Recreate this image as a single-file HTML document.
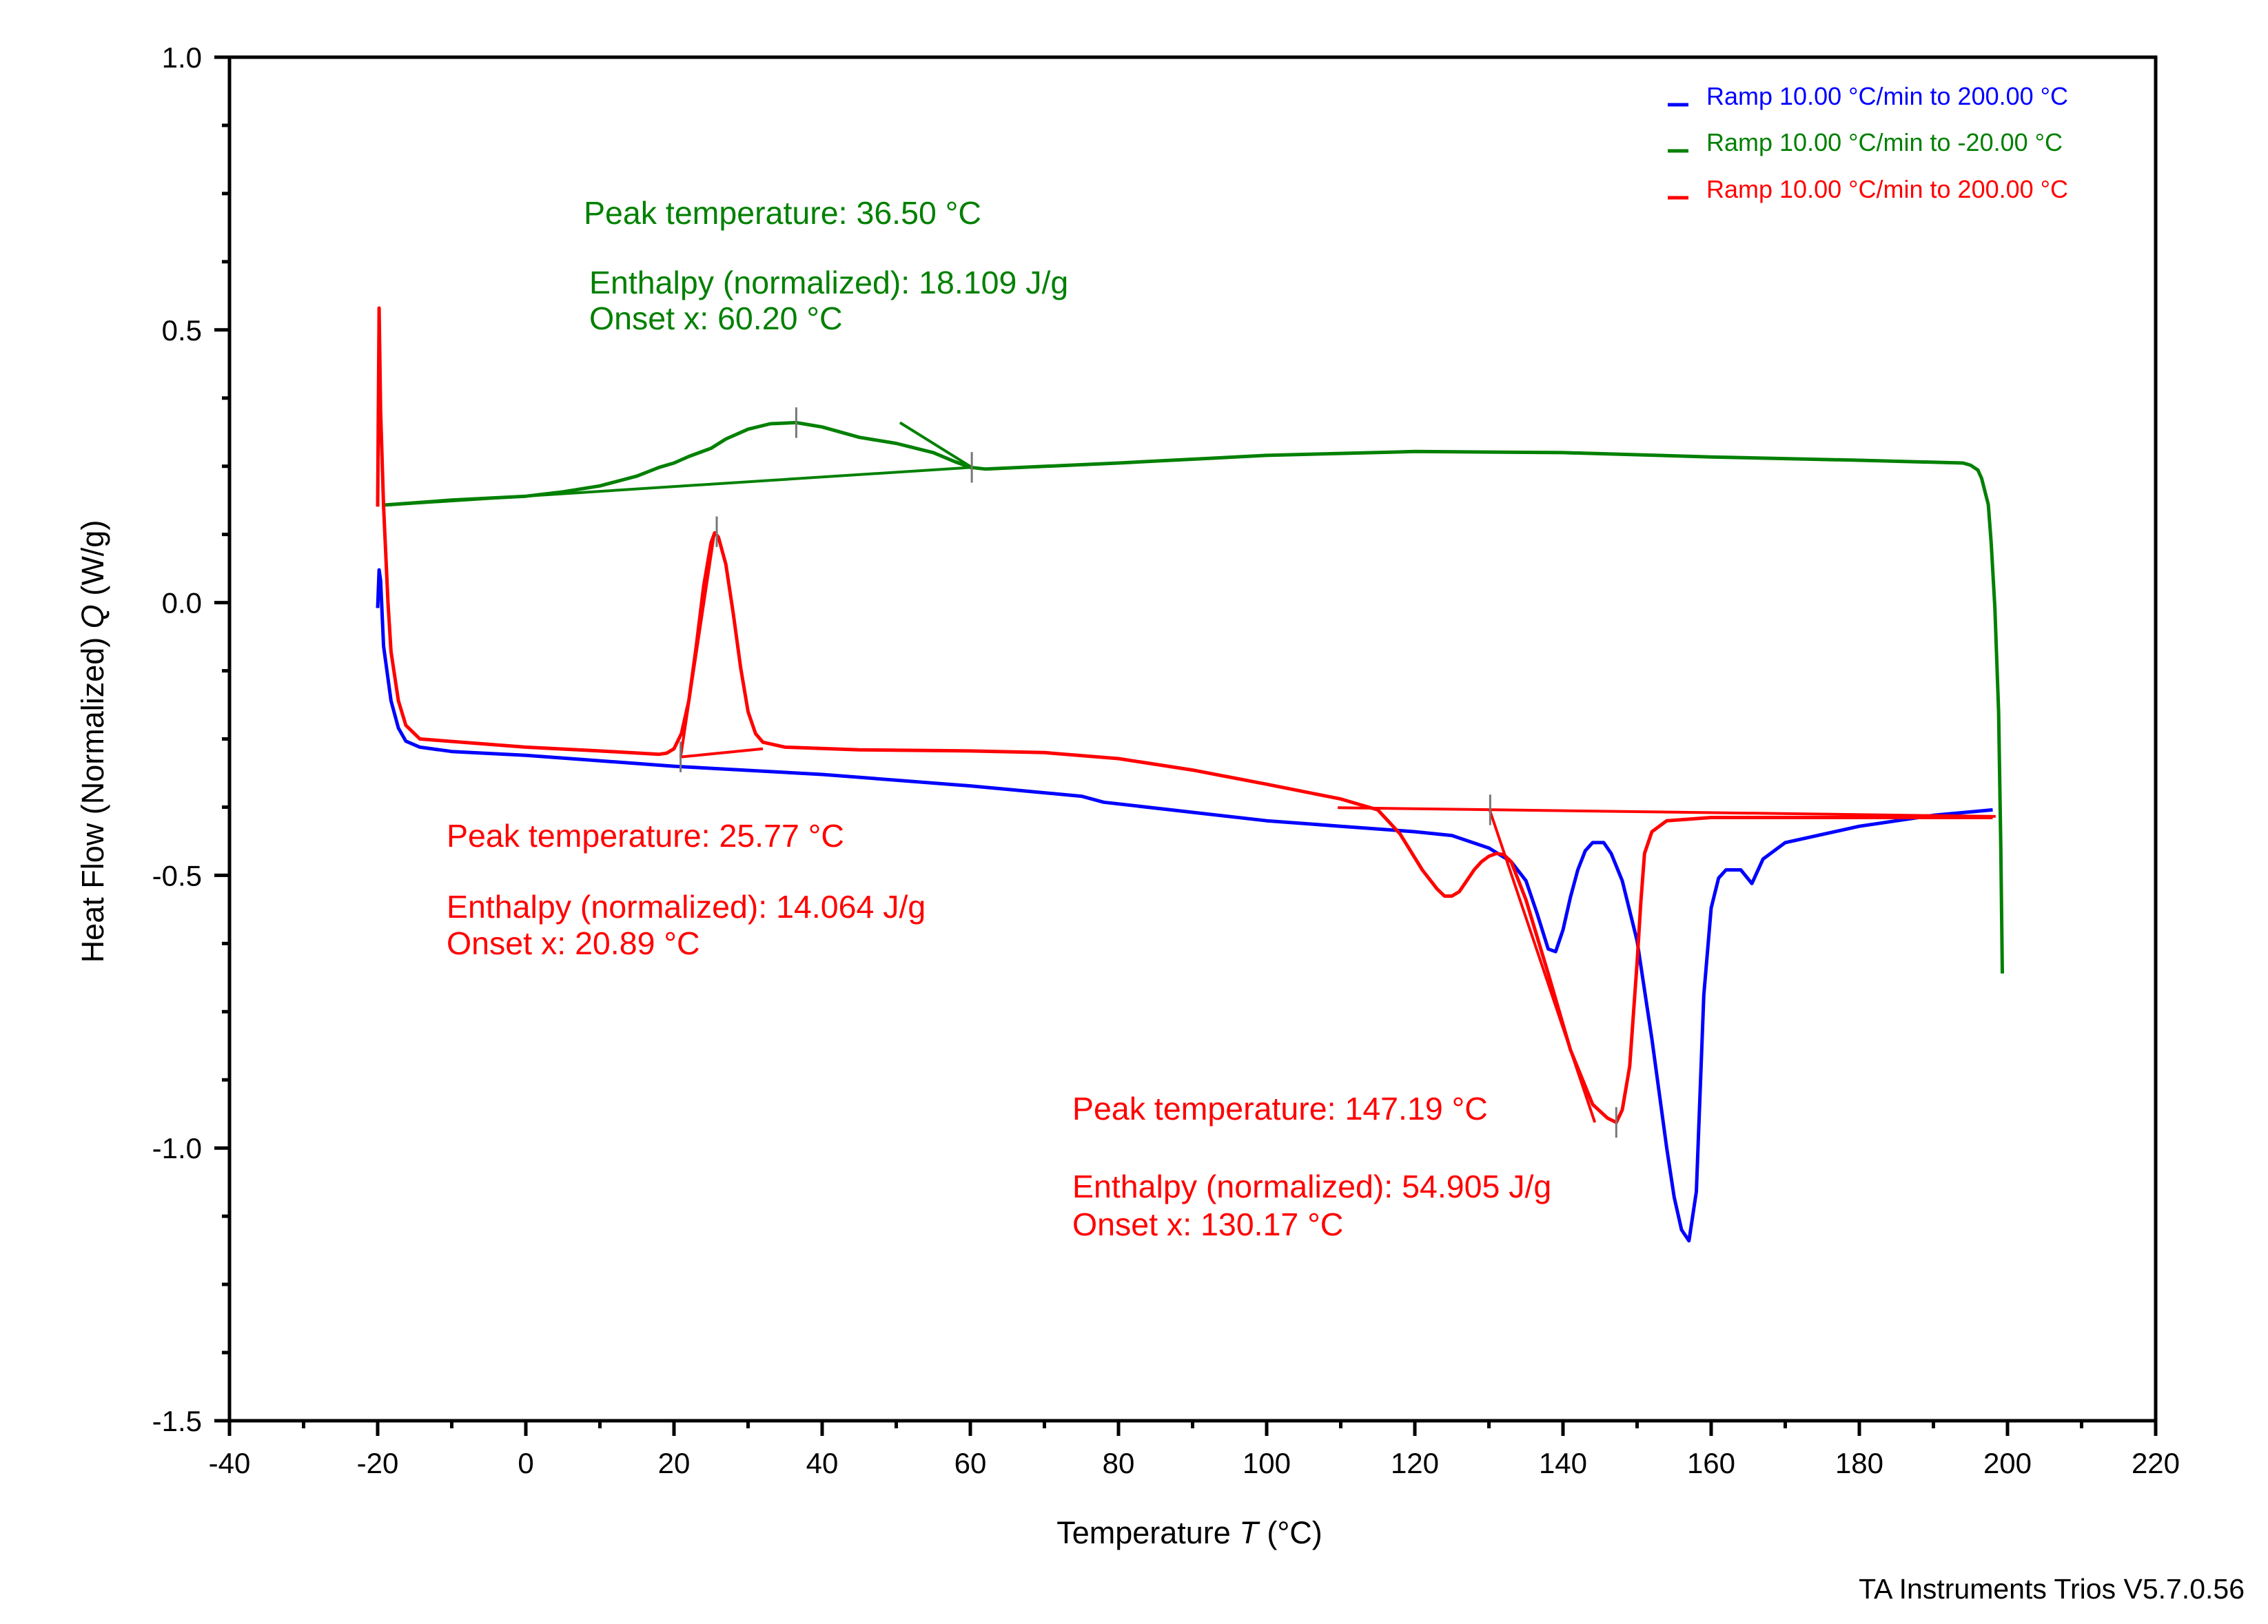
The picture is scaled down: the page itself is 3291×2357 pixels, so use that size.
<!DOCTYPE html>
<html><head><meta charset="utf-8"><style>
html,body{margin:0;padding:0;background:#fff;}
svg{display:block;font-family:"Liberation Sans",Arial,sans-serif;}
</style></head><body>
<svg id="chart" width="3291" height="2357" viewBox="0 0 3291 2357" xmlns="http://www.w3.org/2000/svg">
<g id="axes"></g>
<g id="series"></g>
<g id="annot"></g>
<text x="0" y="0" font-size="45" text-anchor="middle" transform="translate(150,1076) rotate(-90)">Heat Flow (Normalized) <tspan font-style="italic">Q</tspan> (W/g)</text>
<text x="1726" y="2240" font-size="45" text-anchor="middle">Temperature <tspan font-style="italic">T</tspan> (°C)</text>
<text x="3257" y="2320" font-size="41" text-anchor="end">TA Instruments Trios V5.7.0.56</text>
<g>
<line x1="2420" y1="152" x2="2450" y2="152" stroke="#0000ff" stroke-width="5"/>
<text x="2476" y="152" font-size="36" fill="#0000ff">Ramp 10.00 °C/min to 200.00 °C</text>
<line x1="2420" y1="219" x2="2450" y2="219" stroke="#008000" stroke-width="5"/>
<text x="2476" y="219" font-size="36" fill="#008000">Ramp 10.00 °C/min to -20.00 °C</text>
<line x1="2420" y1="287" x2="2450" y2="287" stroke="#ff0000" stroke-width="5"/>
<text x="2476" y="287" font-size="36" fill="#ff0000">Ramp 10.00 °C/min to 200.00 °C</text>
</g>
<g font-size="46.5">
<text x="847" y="325" fill="#008000">Peak temperature: 36.50 °C</text>
<text x="855" y="426" fill="#008000">Enthalpy (normalized): 18.109 J/g</text>
<text x="855" y="478" fill="#008000">Onset x: 60.20 °C</text>
<text x="648" y="1229" fill="#ff0000">Peak temperature: 25.77 °C</text>
<text x="648" y="1332" fill="#ff0000">Enthalpy (normalized): 14.064 J/g</text>
<text x="648" y="1385" fill="#ff0000">Onset x: 20.89 °C</text>
<text x="1556" y="1625" fill="#ff0000">Peak temperature: 147.19 °C</text>
<text x="1556" y="1738" fill="#ff0000">Enthalpy (normalized): 54.905 J/g</text>
<text x="1556" y="1793" fill="#ff0000">Onset x: 130.17 °C</text>
</g>
</svg>
<script>
const xTicks = [-40,-20,0,20,40,60,80,100,120,140,160,180,200,220];
const yTicks = [1.0,0.5,0.0,-0.5,-1.0,-1.5];
const yTickLabels = ["1.0","0.5","0.0","-0.5","-1.0","-1.5"];
const blueT = [-20,-19.8,-19.6,-19.2,-18.2,-17.2,-16.2,-14.3,-10,0,20,40,60,75,78,100,110,120,125,130,133,135,136.5,138,139,140,141,142,143,144,145.5,146.5,148,150,152,154,155,156,157,158,158.5,159,160,161,162,164,165.5,167,170,180,190,198];
const blueQ = [-0.01,0.06,0.04,-0.08,-0.18,-0.23,-0.254,-0.265,-0.273,-0.28,-0.30,-0.315,-0.336,-0.355,-0.366,-0.40,-0.41,-0.42,-0.427,-0.45,-0.475,-0.51,-0.57,-0.635,-0.64,-0.60,-0.54,-0.49,-0.455,-0.44,-0.44,-0.46,-0.51,-0.62,-0.80,-1.0,-1.09,-1.15,-1.17,-1.08,-0.90,-0.72,-0.56,-0.505,-0.49,-0.49,-0.515,-0.47,-0.44,-0.41,-0.39,-0.38];
const greenT = [199.3,199.1,198.8,198.3,197.8,197.4,196.5,196,195,194,180,160,140,120,100,80,62,60,58,55,50,45,40,36.5,33,30,27,25,22,20,18,15,10,5,0,-10,-19];
const greenQ = [-0.68,-0.45,-0.2,-0.01,0.11,0.18,0.228,0.243,0.252,0.256,0.261,0.267,0.275,0.277,0.27,0.256,0.245,0.248,0.258,0.275,0.292,0.303,0.322,0.33,0.328,0.318,0.3,0.283,0.268,0.256,0.248,0.232,0.214,0.203,0.195,0.188,0.179];
const redT = [-20,-19.8,-19.6,-19.2,-18.6,-18.2,-17.2,-16.2,-14.3,0,10,18,19,20,21,22,23,24,25,25.5,26,27,28,29,30,31,32,35,45,60,70,80,90,100,110,115,118,121,123,124,125,126,127,128,129,130,131,132,133,135,138,141,144,146,147.2,148,149,150,150.5,151,152,154,160,180,198];
const redQ = [0.176,0.54,0.35,0.176,0.0,-0.09,-0.18,-0.225,-0.25,-0.265,-0.272,-0.278,-0.276,-0.268,-0.24,-0.18,-0.08,0.03,0.11,0.128,0.12,0.07,-0.02,-0.12,-0.2,-0.24,-0.256,-0.265,-0.27,-0.272,-0.275,-0.286,-0.307,-0.333,-0.36,-0.38,-0.424,-0.49,-0.525,-0.538,-0.538,-0.53,-0.51,-0.49,-0.475,-0.465,-0.46,-0.462,-0.475,-0.545,-0.68,-0.82,-0.92,-0.945,-0.953,-0.93,-0.85,-0.66,-0.55,-0.46,-0.42,-0.40,-0.394,-0.394,-0.394];
const X = t => 333 + (t + 40) * 2795 / 260;
const Y = v => 83 + (1 - v) * 1979 / 2.5;
const NS = "http://www.w3.org/2000/svg";
function mk(tag, attrs, parent){const e=document.createElementNS(NS,tag);for(const k in attrs)e.setAttribute(k,attrs[k]);parent.appendChild(e);return e;}
const axes=document.getElementById('axes');
const frame=mk('rect',{x:X(-40),y:Y(1),width:X(220)-X(-40),height:Y(-1.5)-Y(1),fill:'none',stroke:'#000','stroke-width':5},axes);


for(let t=-40;t<=220;t+=10){const major=(t%20===0);
 const l=mk('line',{x1:X(t),x2:X(t),y1:Y(-1.5),y2:Y(-1.5)+(major?22:11),stroke:'#000','stroke-width':5},axes);
 
 }
xTicks.forEach(t=>{const tx=mk('text',{x:X(t),y:2138,'font-size':42,'text-anchor':'middle'},axes);tx.textContent=String(t);
 
 });
for(let i=0;i<=20;i++){const v=1-i*0.125;const major=(i%4===0);
 const l=mk('line',{x1:X(-40)-(major?22:11),x2:X(-40),y1:Y(v),y2:Y(v),stroke:'#000','stroke-width':5},axes);
 
 }
yTicks.forEach((v,i)=>{const tx=mk('text',{x:293,y:Y(v)+15,'font-size':42,'text-anchor':'end'},axes);tx.textContent=yTickLabels[i];
 
 });
const ser=document.getElementById('series');
function path(T,Q,color,name){const d=T.map((t,i)=>(i?'L':'M')+X(t).toFixed(1)+' '+Y(Q[i]).toFixed(1)).join(' ');
 const p=mk('path',{d:d,fill:'none',stroke:color,'stroke-width':5,'stroke-linejoin':'round'},ser);
 
 }
path(greenT,greenQ,'#008000','cooling-curve-green');
path(blueT,blueQ,'#0000ff','first-heating-curve-blue');
path(redT,redQ,'#ff0000','second-heating-curve-red');
const an=document.getElementById('annot');
const segT1=[[-18.5,60.2],[50.5,60.2],[20.9,32],[20.9,25.4],[109.6,198.4],[130.1,144.3]];
const segQ1=[[0.179,0.248],[0.33,0.248],[-0.283,-0.268],[-0.283,0.123],[-0.376,-0.392],[-0.38,-0.953]];
const segC=['#008000','#008000','#ff0000','#ff0000','#ff0000','#ff0000'];
segT1.forEach((s,i)=>{const l=mk('line',{x1:X(s[0]),y1:Y(segQ1[i][0]),x2:X(s[1]),y2:Y(segQ1[i][1]),stroke:segC[i],'stroke-width':4},an);
 
 });
const markT=[36.5,60.2,25.77,20.89,130.17,147.19];
const markQ=[0.33,0.248,0.13,-0.283,-0.38,-0.953];
markT.forEach((t,i)=>{const l=mk('line',{x1:X(t),x2:X(t),y1:Y(markQ[i]+0.028),y2:Y(markQ[i]-0.028),stroke:'#777','stroke-width':3},an);
 
 });
</script>
</body></html>
